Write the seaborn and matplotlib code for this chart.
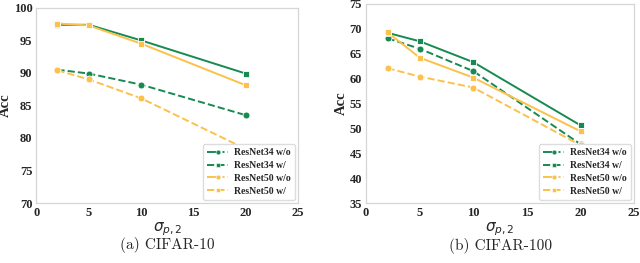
import matplotlib
matplotlib.use("Agg")
import pandas as pd
import seaborn as sns
import matplotlib.pyplot as plt
from matplotlib.lines import Line2D

# noise levels and accuracies
sigma = [2, 5, 10, 20]

c10_r34_wo = [90.5, 89.9, 88.2, 83.5]
c10_r34_w = [97.4, 97.4, 95.0, 89.9]
c10_r50_wo = [90.4, 89.0, 86.1, 78.3]
c10_r50_w = [97.6, 97.3, 94.5, 88.1]

c100_r34_wo = [68.1, 66.0, 61.5, 46.8]
c100_r34_w = [69.2, 67.5, 63.3, 50.6]
c100_r50_wo = [62.1, 60.4, 58.2, 46.6]
c100_r50_w = [69.3, 64.2, 60.2, 49.4]

labels = ["ResNet34 w/o", "ResNet34 w/", "ResNet50 w/o", "ResNet50 w/"]
green = "#168a52"
yellow = "#fbc14c"
colors = [green, green, yellow, yellow]
markers = ["o", "s", "o", "s"]

sns.set_style("white")
plt.rcParams["font.family"] = ["Liberation Serif", "DejaVu Serif"]
plt.rcParams["font.weight"] = "bold"
plt.rcParams["mathtext.fontset"] = "custom"
plt.rcParams["mathtext.it"] = "DejaVu Sans:style=italic:weight=normal"
plt.rcParams["mathtext.rm"] = "DejaVu Sans:weight=normal"


def make_df(series):
    rows = []
    for name, vals in zip(labels, series):
        for s, v in zip(sigma, vals):
            rows.append({"sigma": s, "acc": v, "model": name})
    return pd.DataFrame(rows)


def draw(ax, df, ylim, yticks, caption):
    for name, col, mk in zip(labels, colors, markers):
        d = df[df["model"] == name]
        ls = "--" if "w/o" in name else "-"
        sns.lineplot(data=d, x="sigma", y="acc", ax=ax, color=col, marker=mk,
                     markersize=5, markeredgecolor="white", markeredgewidth=0.6,
                     linestyle=ls, linewidth=1.4, legend=False)
    ax.set_xlim(0, 25)
    ax.set_ylim(*ylim)
    ax.set_xticks([0, 5, 10, 15, 20, 25])
    ax.set_yticks(yticks)
    ax.tick_params(axis="both", length=2, width=0.6, color="#999999", pad=1,
                   labelsize=9)
    ax.set_xlabel(r"$\sigma_{p,2}$", fontsize=11, labelpad=1, fontweight="normal")
    ax.set_ylabel("Acc", fontsize=10.5, fontweight="bold", labelpad=1)
    for sp in ax.spines.values():
        sp.set_color("#d6d6d6")
        sp.set_linewidth(0.9)
    handles = []
    for name, col, mk in zip(labels, colors, markers):
        ls = "-." if "w/o" in name else "--"
        handles.append(Line2D([], [], color=col, marker=mk, markersize=3.5,
                              markeredgecolor="white", markeredgewidth=0.4,
                              linestyle=ls, linewidth=1.4))
    ax.legend(handles, labels, loc="lower right", prop={"weight": "bold", "size": 7},
              frameon=True, edgecolor="#dddddd", framealpha=1, handlelength=2.2,
              borderpad=0.45, labelspacing=0.4, borderaxespad=0.3, handletextpad=0.6)
    ax.text(0.5, -0.175, caption, transform=ax.transAxes, ha="center", va="top",
            fontsize=11, family="cmr10", fontweight="normal")


fig = plt.figure(figsize=(6.4, 2.63), dpi=100)
ax1 = fig.add_axes([0.057, 0.228, 0.409, 0.742])
ax2 = fig.add_axes([0.572, 0.228, 0.419, 0.757])

draw(ax1, make_df([c10_r34_wo, c10_r34_w, c10_r50_wo, c10_r50_w]),
     (70, 100), [70, 75, 80, 85, 90, 95, 100], "(a) CIFAR-10")
draw(ax2, make_df([c100_r34_wo, c100_r34_w, c100_r50_wo, c100_r50_w]),
     (35, 75), [35, 40, 45, 50, 55, 60, 65, 70, 75], "(b) CIFAR-100")

fig.savefig("out.png", dpi=100)
